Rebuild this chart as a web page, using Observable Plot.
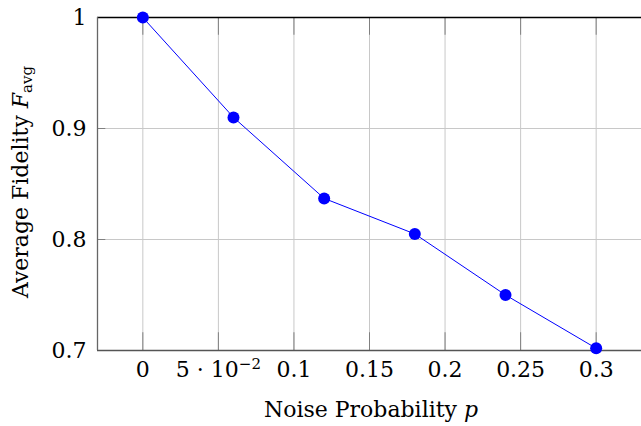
<!DOCTYPE html>
<html>
<head>
<meta charset="utf-8">
<script src="https://cdn.jsdelivr.net/npm/d3@7"></script>
<script src="https://cdn.jsdelivr.net/npm/@observablehq/plot@0.6"></script>
<style>
  html, body { margin: 0; padding: 0; background: #fff; }
  #chart svg { display: block; }
</style>
</head>
<body>
<div id="chart"></div>
<script>
const noiseP = [0, 0.06, 0.12, 0.18, 0.24, 0.30];
const fidelity = [1.0, 0.91, 0.837, 0.805, 0.75, 0.702];
const xTicks = [0, 0.05, 0.1, 0.15, 0.2, 0.25, 0.3];
const xTickLabels = ["0", "5 · 10⁻²", "0.1", "0.15", "0.2", "0.25", "0.3"];
const yTicks = [0.7, 0.8, 0.9, 1];
const yTickLabels = ["0.7", "0.8", "0.9", "1"];
const xDomain = [-0.03, 0.33];
const yDomain = [0.7, 1.0];

const data = noiseP.map((p, i) => ({p, f: fidelity[i]}));
const FONT = "DejaVu Serif, serif";
const FS = 22;

const chart = Plot.plot({
  width: 641,
  height: 426,
  marginLeft: 97,
  marginRight: 0,
  marginTop: 17,
  marginBottom: 76,
  style: {fontFamily: FONT, fontSize: FS + "px", background: "#fff", color: "#000"},
  x: {domain: xDomain, label: null},
  y: {domain: yDomain, label: null},
  marks: [
    Plot.ruleX(xTicks, {stroke: "#c8c8c8", strokeWidth: 1}),
    Plot.ruleY(yTicks, {stroke: "#c8c8c8", strokeWidth: 1}),
    Plot.ruleX(xTicks, {y1: yDomain[0], y2: yDomain[0] + 0.016, stroke: "#808080", strokeWidth: 1}),
    Plot.ruleX(xTicks, {y1: yDomain[1], y2: yDomain[1] - 0.016, stroke: "#808080", strokeWidth: 1}),
    Plot.ruleY(yTicks, {x1: xDomain[0], x2: xDomain[0] + 0.0055, stroke: "#808080", strokeWidth: 1}),
    Plot.ruleY([yDomain[0]], {stroke: "#555", strokeWidth: 1.3}),
    Plot.ruleY([yDomain[1]], {stroke: "#000", strokeWidth: 1.3}),
    Plot.ruleX([xDomain[0]], {stroke: "#666", strokeWidth: 1.3}),
    Plot.axisX(xTicks, {tickSize: 0, tickPadding: 11, tickFormat: (d) => xTickLabels[xTicks.indexOf(d)], fontSize: FS, fontFamily: FONT, label: null}),
    Plot.axisY(yTicks, {tickSize: 0, tickPadding: 11, tickFormat: (d) => yTickLabels[yTicks.indexOf(d)], fontSize: FS, fontFamily: FONT, label: null}),
    Plot.line(data, {x: "p", y: "f", stroke: "#0000ff", strokeWidth: 1}),
    Plot.dot(data, {x: "p", y: "f", r: 6, fill: "#0000ff", stroke: "none"})
  ]
});

document.getElementById("chart").appendChild(chart);

const svg = d3.select(chart);

// Proper superscript for the 5·10^-2 tick label
svg.selectAll("text").each(function() {
  if (this.textContent === "5 · 10⁻²") {
    const t = d3.select(this);
    t.text(null);
    t.append("tspan").text("5 · 10");
    t.append("tspan").attr("font-size", 15).attr("dy", "-0.55em").text("−2");
  }
});

const xt = svg.append("text")
  .attr("x", 371)
  .attr("y", 417)
  .attr("text-anchor", "middle")
  .attr("font-family", FONT)
  .attr("font-size", FS)
  .attr("fill", "#000");
xt.append("tspan").text("Noise Probability ");
xt.append("tspan").attr("font-style", "italic").text("p");

const yt = svg.append("text")
  .attr("transform", `translate(28, 182) rotate(-90)`)
  .attr("text-anchor", "middle")
  .attr("font-family", FONT)
  .attr("font-size", FS)
  .attr("fill", "#000");
yt.append("tspan").text("Average Fidelity ");
yt.append("tspan").attr("font-style", "italic").text("F");
yt.append("tspan").attr("font-size", 15).attr("dy", 4).text("avg");
</script>
</body>
</html>
